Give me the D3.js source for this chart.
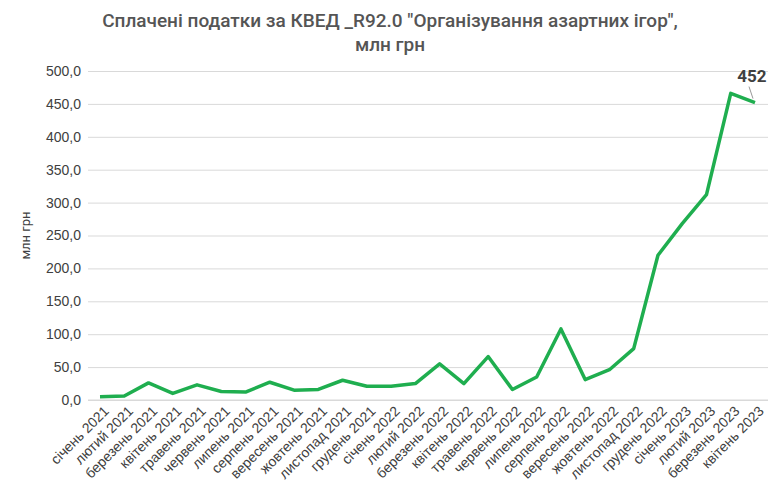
<!DOCTYPE html>
<html><head><meta charset="utf-8">
<script src="https://cdn.jsdelivr.net/npm/d3@7"></script>
<style>body{margin:0;background:#fff;font-family:Roboto,"Noto Sans",sans-serif}</style>
</head><body><svg id="c" width="780" height="503"></svg>
<script>
const categories=["січень 2021","лютий 2021","березень 2021","квітень 2021","травень 2021","червень 2021","липень 2021","серпень 2021","вересень 2021","жовтень 2021","листопад 2021","грудень 2021","січень 2022","лютий 2022","березень 2022","квітень 2022","травень 2022","червень 2022","липень 2022","серпень 2022","вересень 2022","жовтень 2022","листопад 2022","грудень 2022","січень 2023","лютий 2023","березень 2023","квітень 2023"];
const values=[5,6,26,10,23,13,12,27,15,16,30,21,21,25,55,25,66,16,35,108,31,46,78,220,268,312,466,452];
const yTicks=[0,50,100,150,200,250,300,350,400,450,500];
const title=["Сплачені податки за КВЕД _R92.0 \"Організування азартних ігор\",","млн грн"];

const svg=d3.select("#c");
const L=88,R=768,T=71,B=400;
const x=d3.scalePoint().domain(categories).range([100,755]);
const y=d3.scaleLinear().domain([0,500]).range([B,T]);
const fmt=d=>d3.format(".1f")(d).replace(".",",");
const ya=svg.append("g").attr("transform",`translate(${L},0)`).call(d3.axisLeft(y).tickValues(yTicks).tickSize(-(R-L)).tickFormat(fmt));
ya.select(".domain").remove();
ya.selectAll("line").attr("stroke","#d9d9d9");
ya.selectAll("text").attr("fill","#404040").attr("font-size",14).attr("dx",-4);
const xa=svg.append("g").attr("transform",`translate(0,${B})`).call(d3.axisBottom(x).tickSize(0));
xa.select(".domain").attr("stroke","#d9d9d9").attr("d",`M${L},0H${R}`);
xa.selectAll("text").attr("fill","#404040").attr("font-size",14)
  .attr("text-anchor","end").attr("transform","rotate(-45)").attr("dx",-2).attr("dy",12);
svg.append("path").datum(values).attr("fill","none").attr("stroke","#1fae4f").attr("stroke-width",3.5)
  .attr("stroke-linejoin","round")
  .attr("d",d3.line().x((d,i)=>x(categories[i])).y(d=>y(d)));
const li=values.length-1;
svg.append("line").attr("x1",x(categories[li])-2).attr("y1",y(values[li])-4).attr("x2",x(categories[li])-6).attr("y2",y(values[li])-16).attr("stroke","#999");
svg.append("text").attr("x",x(categories[li])-3).attr("y",y(values[li])-21).attr("text-anchor","middle")
  .attr("font-size",17).attr("font-weight","bold").attr("fill","#404040").text(values[li]);
svg.append("text").attr("transform",`translate(30,${(T+B)/2}) rotate(-90)`).attr("text-anchor","middle")
  .attr("font-size",13).attr("fill","#404040").text("млн грн");
svg.selectAll(".t").data(title).join("text").attr("x",390).attr("y",(d,i)=>27+i*24).attr("text-anchor","middle")
  .attr("font-size",19).attr("font-weight",500).attr("fill","#555").text(d=>d);
</script></body></html>
